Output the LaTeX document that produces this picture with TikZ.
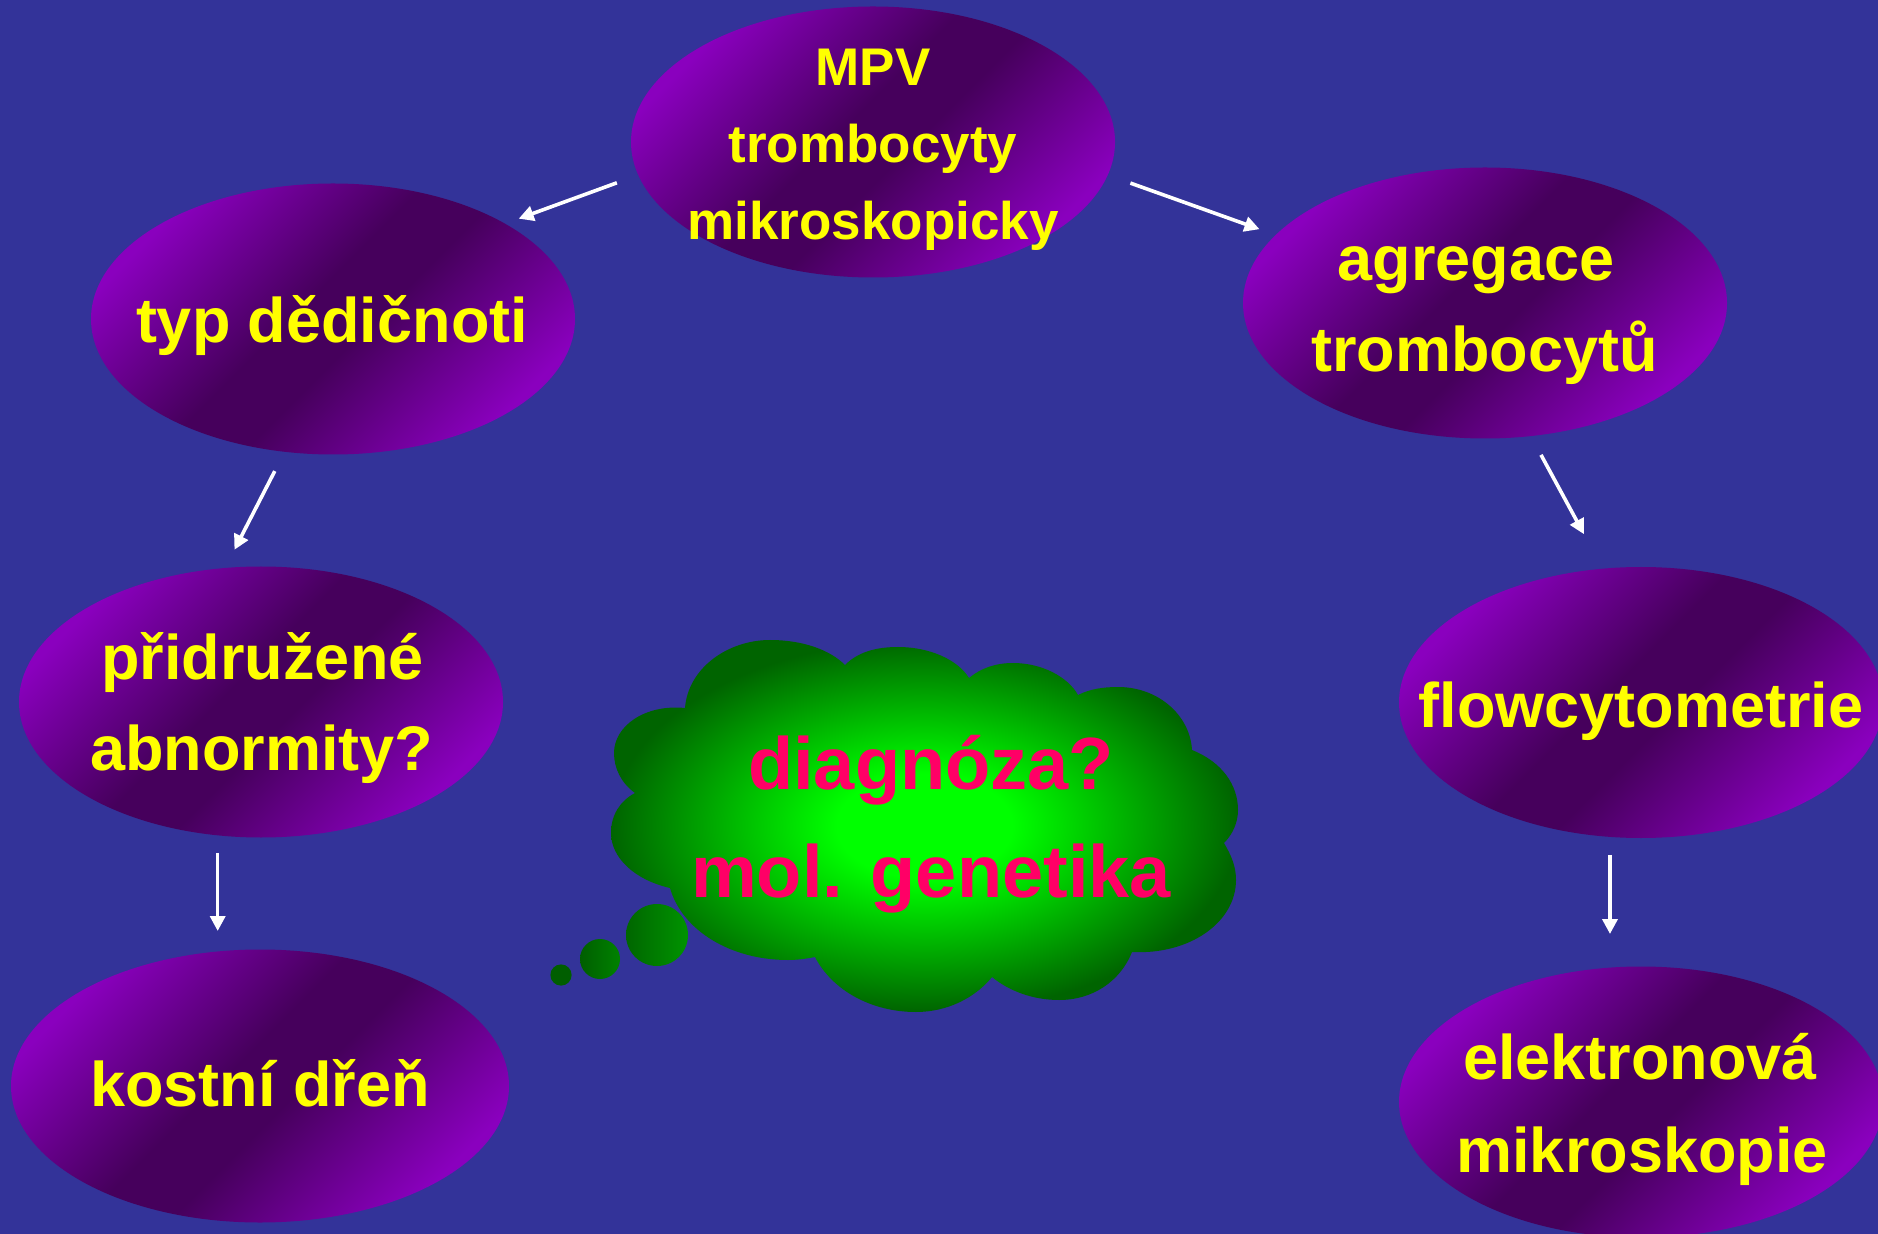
\documentclass[tikz,border=0pt]{standalone}
\usepackage{fontspec}
\setmainfont{Liberation Sans}
\usetikzlibrary{arrows.meta,shapes.geometric}
\definecolor{bgblue}{HTML}{333399}
\definecolor{plight}{HTML}{8A00BE}
\definecolor{pdark}{HTML}{46005C}
\definecolor{txtyellow}{HTML}{FFFF00}
\definecolor{txtpink}{HTML}{FF0066}
\definecolor{cgA}{HTML}{00FF00}
\definecolor{cgB}{HTML}{006400}
\definecolor{bubA}{HTML}{006600}
\definecolor{bubB}{HTML}{009400}
\definecolor{bubC}{HTML}{008200}
\definecolor{bubD}{HTML}{005E00}
\pgfdeclarehorizontalshading{purpsh}{100bp}{color(0bp)=(plight); color(25bp)=(plight); color(46bp)=(pdark); color(54bp)=(pdark); color(75bp)=(plight); color(100bp)=(plight)}
\pgfdeclareradialshading{cloudsh}{\pgfpoint{0bp}{0bp}}{color(0bp)=(cgA); color(7bp)=(cgA); color(25bp)=(cgB); color(50bp)=(cgB)}
\begin{document}
\begin{tikzpicture}[x=0.5pt,y=-0.5pt,
  ell/.style={ellipse, shade, shading=purpsh, shading angle=-45,
    minimum width=242pt, minimum height=135.5pt, inner sep=0pt, outer sep=0pt},
  lbl/.style={text=txtyellow, font=\fontsize{31.5}{36}\selectfont\bfseries, anchor=base, inner sep=0pt},
  lblsmall/.style={text=txtyellow, font=\fontsize{26.5}{30}\selectfont\bfseries, anchor=base, inner sep=0pt},
  cloudlbl/.style={text=txtpink, font=\fontsize{37}{42}\selectfont\bfseries, anchor=base, inner sep=0pt},
  arr/.style={draw=white, line width=1.8pt, -{Triangle[length=7.5pt,width=7.5pt]}}]
\useasboundingbox (0,0) rectangle (1878,1234);
\fill[bgblue] (0,0) rectangle (1878,1234);

% ellipses
\node[ell] (mpv) at (873,142) {};
\node[ell] (typ) at (333,319) {};
\node[ell] (agr) at (1485,303) {};
\node[ell] (pri) at (261,702) {};
\node[ell] (flow) at (1641,702.5) {};
\node[ell, minimum width=249pt, minimum height=136.5pt] (kost) at (260,1086) {};
\node[ell] (elek) at (1641,1102) {};

% texts
\node[lblsmall] (mpvA) at (873,86) {MPV};
\node[lblsmall] (mpvB) at (873,163) {trombocyty};
\node[lblsmall] (mpvC) at (873,240) {mikroskopicky};
\node[lbl] (typT) at (332,343) {typ dědičnoti};
\node[lbl] (agrA) at (1476,281) {agregace};
\node[lbl] (agrB) at (1484.5,372) {trombocytů};
\node[lbl] (priA) at (262.5,680) {přidružené};
\node[lbl] (priB) at (261.6,770.5) {abnormity?};
\node[lbl] (flowT) at (1641,727) {flowcytometrie};
\node[lbl] (kostT) at (260,1106) {kostní dřeň};
\node[lbl] (elekA) at (1640,1079) {elektronová};
\node[lbl] (elekB) at (1642,1172) {mikroskopie};

% cloud
\shade[shading=cloudsh]
 (685,708) .. controls (688,668) and (728,640) .. (770,640)
 .. controls (803,640) and (830,650) .. (845,665)
 .. controls (858,652) and (876,647) .. (898,647)
 .. controls (930,647) and (958,660) .. (969,678)
 .. controls (981,668) and (996,663) .. (1013,663)
 .. controls (1042,663) and (1068,677) .. (1078,695)
 .. controls (1090,689) and (1103,687) .. (1118,687)
 .. controls (1158,687) and (1190,715) .. (1192,750)
 .. controls (1222,762) and (1238,785) .. (1238,810)
 .. controls (1238,822) and (1233,834) .. (1224,843)
 .. controls (1231,855) and (1236,866) .. (1236,880)
 .. controls (1236,922) and (1190,955) .. (1132,952)
 .. controls (1120,982) and (1092,1000) .. (1059,1000)
 .. controls (1033,1000) and (1009,991) .. (992,977)
 .. controls (975,998) and (947,1012) .. (916,1012)
 .. controls (871,1012) and (832,990) .. (815,957)
 .. controls (805,959) and (796,960) .. (788,960)
 .. controls (730,960) and (682,930) .. (670,888)
 .. controls (635,880) and (611,858) .. (611,833)
 .. controls (611,815) and (620,801) .. (635,793)
 .. controls (621,783) and (614,768) .. (614,753)
 .. controls (614,726) and (645,704) .. (685,708) -- cycle;
\shade[left color=bubA, right color=bubB] (657,935) circle[radius=15.5pt];
\shade[left color=bubD, right color=bubC] (600,959) circle[radius=10pt];
\fill[bubD] (561,975) circle[radius=5.3pt];
\node[cloudlbl] (diag) at (931,789) {diagnóza?};
\node[cloudlbl] (molg) at (931,897) {mol. genetika};

% arrows
\draw[arr, shorten <=11.4pt, shorten >=7.3pt] (mpv.188.2) -- (typ.29.95);
\draw[arr, shorten <=12.05pt, shorten >=8.6pt] (mpv.352.2) -- (agr.162.5);
\draw[arr, shorten <=10.85pt, shorten >=10.25pt] (typ.250.4) -- (pri.105.5);
\draw[arr, shorten <=10.7pt, shorten >=19.65pt] (agr.289.4) -- (flow.106.6);
\draw[arr, shorten <=8.8pt, shorten >=9.25pt] (pri.252.5) -- (pri.252.5 |- kost.north);
\draw[arr, shorten <=9pt, shorten >=16.25pt] (flow.257.8) -- (flow.257.8 |- elek.north);
\end{tikzpicture}
\end{document}
